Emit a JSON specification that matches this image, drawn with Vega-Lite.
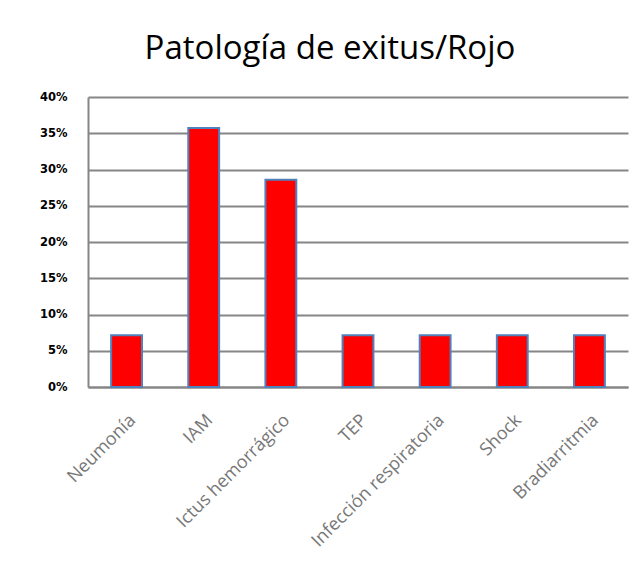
{
  "$schema": "https://vega.github.io/schema/vega-lite/v6.json",
  "autosize": {"type": "none"},
  "width": 540,
  "height": 290,
  "padding": {"left": 88, "top": 97, "right": 14, "bottom": 181},
  "background": "white",
  "title": {
    "text": "Patología de exitus/Rojo",
    "font": "Open Sans",
    "fontSize": 33,
    "fontWeight": "normal",
    "color": "#000000",
    "anchor": "middle",
    "offset": 25,
    "dx": -28
  },
  "data": {
    "values": [
      {"patologia": "Neumonía", "pct": 0.0714},
      {"patologia": "IAM", "pct": 0.3571},
      {"patologia": "Ictus hemorrágico", "pct": 0.2857},
      {"patologia": "TEP", "pct": 0.0714},
      {"patologia": "Infección respiratoria", "pct": 0.0714},
      {"patologia": "Shock", "pct": 0.0714},
      {"patologia": "Bradiarritmia", "pct": 0.0714}
    ]
  },
  "mark": {"type": "bar", "color": "#ff0000", "stroke": "#4f81bd", "strokeWidth": 2},
  "encoding": {
    "x": {
      "field": "patologia",
      "type": "nominal",
      "sort": null,
      "scale": {"paddingInner": 0.6, "paddingOuter": 0.3},
      "axis": {
        "title": null,
        "labelAngle": -45,
        "labelFont": "Open Sans",
        "labelFontSize": 18,
        "labelColor": "#777777",
        "ticks": false,
        "labelPadding": 24,
        "domainColor": "#868686",
        "domainWidth": 2
      }
    },
    "y": {
      "field": "pct",
      "type": "quantitative",
      "scale": {"domain": [0, 0.4]},
      "axis": {
        "title": null,
        "format": ".0%",
        "values": [0, 0.05, 0.1, 0.15, 0.2, 0.25, 0.3, 0.35, 0.4],
        "labelFont": "DejaVu Sans",
        "labelFontSize": 11.5,
        "labelFontWeight": "bold",
        "labelColor": "#000000",
        "ticks": false,
        "labelPadding": 21,
        "domainColor": "#868686",
        "domainWidth": 2,
        "gridColor": "#868686",
        "gridWidth": 2
      }
    }
  },
  "config": {"view": {"stroke": null}}
}
